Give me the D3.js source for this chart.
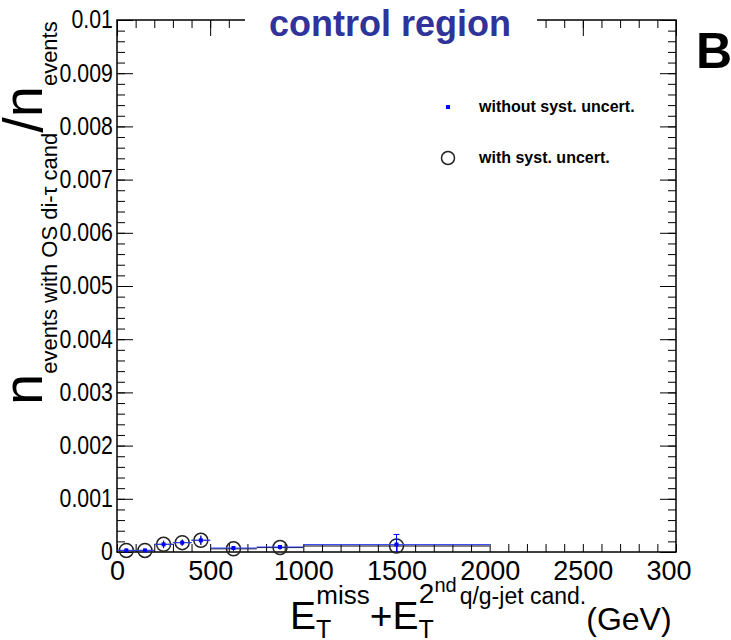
<!DOCTYPE html>
<html><head><meta charset="utf-8">
<script src="https://cdn.jsdelivr.net/npm/d3@7"></script>
<style>
html,body{margin:0;padding:0;background:#fff;}
svg{display:block;font-family:"Liberation Sans",Arial,Helvetica,sans-serif;}
</style>
</head><body>
<svg id="chart" width="731" height="640"></svg>
<script>
// Bin edges in E_T^miss + E_T(2nd jet), GeV
const binLow  = [0, 100, 200, 300, 400, 500, 750, 1000];
const binHigh = [100, 200, 300, 400, 500, 750, 1000, 2000];
// Fraction of events with an OS di-tau candidate, statistical errors only
const fracStat = [0.00003, 0.00003, 0.000144, 0.000176, 0.00022, 0.000075, 0.000094, 0.00014];
const errStat  = [0.00003, 0.00003, 0.00006, 0.00005, 0.000075, 0.00003, 0.00003, 0.00019];
// Same fraction, including systematic uncertainties
const fracSyst = [0.00003, 0.00003, 0.000144, 0.000176, 0.00022, 0.00006, 0.000083, 0.000113];
const errSyst  = [0.00003, 0.00003, 0.00007, 0.00006, 0.00009, 0.00004, 0.00004, 0.0002];

const xTickLabels = ["0", "500", "1000", "1500", "2000", "2500", "3000"];
const yTickLabels = ["0", "0.001", "0.002", "0.003", "0.004", "0.005", "0.006", "0.007", "0.008", "0.009", "0.01"];

const svg = d3.select("#chart");
const padL = 117, padR = 676, padT = 20, padB = 552;

const x = d3.scaleLinear().domain([0, 3000]).range([padL, padR]);
const y = d3.scaleLinear().domain([0, 0.01]).range([padB, padT]);

const xMajor = xTickLabels.map(Number);
const yMajor = yTickLabels.map(Number);
const xMinor = x.ticks(30);
const yMinor = y.ticks(50);

const axisStyle = g => {
  g.select(".domain").remove();
  g.selectAll(".tick line").attr("stroke", "#000").attr("stroke-width", 1);
};

// minor ticks on all four sides
svg.append("g").attr("transform", `translate(0,${padB})`)
  .call(d3.axisBottom(x).tickValues(xMinor).tickSize(-8).tickFormat(""))
  .call(axisStyle);
svg.append("g").attr("transform", `translate(0,${padT})`)
  .call(d3.axisTop(x).tickValues(xMinor).tickSize(-8).tickFormat(""))
  .call(axisStyle);
svg.append("g").attr("transform", `translate(${padL},0)`)
  .call(d3.axisLeft(y).tickValues(yMinor).tickSize(-8).tickFormat(""))
  .call(axisStyle);
svg.append("g").attr("transform", `translate(${padR},0)`)
  .call(d3.axisRight(y).tickValues(yMinor).tickSize(-8).tickFormat(""))
  .call(axisStyle);

// major ticks; tick labels are clipped at the canvas edge
svg.append("defs").append("clipPath").attr("id", "canvasClip")
  .append("rect").attr("x", 0).attr("y", 0).attr("width", 691).attr("height", 640);

const xAx = svg.append("g").attr("transform", `translate(0,${padB})`)
  .call(d3.axisBottom(x).tickValues(xMajor).tickSize(-16).tickPadding(9)
    .tickFormat((d, i) => xTickLabels[i]))
  .call(axisStyle);
xAx.attr("clip-path", "url(#canvasClip)");
xAx.selectAll(".tick text").attr("font-size", 27).attr("fill", "#000")
  .attr("font-family", "'Liberation Sans', Arial, sans-serif");

svg.append("g").attr("transform", `translate(0,${padT})`)
  .call(d3.axisTop(x).tickValues(xMajor).tickSize(-16).tickFormat(""))
  .call(axisStyle);

const yAx = svg.append("g").attr("transform", `translate(${padL},0)`)
  .call(d3.axisLeft(y).tickValues(yMajor).tickSize(-16)
    .tickFormat((d, i) => yTickLabels[i]))
  .call(axisStyle);
// narrow-set labels, right edge close to the frame
yAx.selectAll(".tick text").attr("font-size", 26).attr("fill", "#000")
  .attr("font-family", "'Liberation Sans', Arial, sans-serif")
  .attr("x", -5).attr("dy", "0.3em").attr("transform", "scale(0.82,1)");

svg.append("g").attr("transform", `translate(${padR},0)`)
  .call(d3.axisRight(y).tickValues(yMajor).tickSize(-16).tickFormat(""))
  .call(axisStyle);

// frame
svg.append("rect").attr("x", padL).attr("y", padT)
  .attr("width", padR - padL).attr("height", padB - padT)
  .attr("fill", "none").attr("stroke", "#000").attr("stroke-width", 1.5);

// title with white box breaking the frame
svg.append("rect").attr("x", 245).attr("y", 4).attr("width", 292).attr("height", 38).attr("fill", "#fff");
svg.append("text").attr("x", 390).attr("y", 36).attr("text-anchor", "middle")
  .attr("font-size", 36).attr("font-weight", "bold").attr("fill", "#303399")
  .text("control region");

svg.append("text").attr("x", 696).attr("y", 68)
  .attr("font-size", 50).attr("font-weight", "bold").attr("fill", "#000").text("B");

// data
const idx = d3.range(binLow.length);
const mid = i => (binLow[i] + binHigh[i]) / 2;
const gSyst = svg.append("g");
gSyst.selectAll("line.h").data(idx).join("line").attr("class", "h")
  .attr("x1", i => x(binLow[i])).attr("x2", i => x(binHigh[i]))
  .attr("y1", i => y(fracSyst[i])).attr("y2", i => y(fracSyst[i]))
  .attr("stroke", "#000").attr("stroke-width", 1);
gSyst.selectAll("line.v").data(idx).join("line").attr("class", "v")
  .attr("x1", i => x(mid(i))).attr("x2", i => x(mid(i)))
  .attr("y1", i => y(Math.max(0, fracSyst[i] - errSyst[i]))).attr("y2", i => y(fracSyst[i] + errSyst[i]))
  .attr("stroke", "#000").attr("stroke-width", 1);
gSyst.selectAll("circle").data(idx).join("circle")
  .attr("cx", i => x(mid(i))).attr("cy", i => y(fracSyst[i]))
  .attr("r", 7).attr("fill", "none").attr("stroke", "#222").attr("stroke-width", 1.5);

const gStat = svg.append("g");
gStat.selectAll("line.h").data(idx).join("line").attr("class", "h")
  .attr("x1", i => x(binLow[i])).attr("x2", i => x(binHigh[i]))
  .attr("y1", i => y(fracStat[i])).attr("y2", i => y(fracStat[i]))
  .attr("stroke", "#3344ff").attr("stroke-width", 1);
gStat.selectAll("line.v").data(idx).join("line").attr("class", "v")
  .attr("x1", i => x(mid(i))).attr("x2", i => x(mid(i)))
  .attr("y1", i => y(Math.max(0, fracStat[i] - errStat[i]))).attr("y2", i => y(fracStat[i] + errStat[i]))
  .attr("stroke", "#0000ff").attr("stroke-width", 1);
gStat.selectAll("line.cap").data(idx.filter(i => fracStat[i] + errStat[i] > 0.0003)).join("line").attr("class", "cap")
  .attr("x1", i => x(mid(i)) - 3).attr("x2", i => x(mid(i)) + 3)
  .attr("y1", i => y(fracStat[i] + errStat[i])).attr("y2", i => y(fracStat[i] + errStat[i]))
  .attr("stroke", "#0000ff").attr("stroke-width", 1);
gStat.selectAll("rect").data(idx).join("rect")
  .attr("x", i => x(mid(i)) - 2).attr("y", i => y(fracStat[i]) - 2)
  .attr("width", 4).attr("height", 4).attr("fill", "#0000ff");

// legend
const legend = svg.append("g");
legend.append("rect").attr("x", 446).attr("y", 105).attr("width", 4).attr("height", 4).attr("fill", "#0000ff");
legend.append("circle").attr("cx", 448).attr("cy", 158).attr("r", 6.5)
  .attr("fill", "none").attr("stroke", "#222").attr("stroke-width", 1.5);
legend.append("text").attr("x", 479).attr("y", 112).attr("font-size", 16).attr("font-weight", "bold")
  .text("without syst. uncert.");
legend.append("text").attr("x", 479).attr("y", 163).attr("font-size", 16).attr("font-weight", "bold")
  .text("with syst. uncert.");

// y-axis title: n_{events with OS di-tau cand} / n_{events}
const yt = svg.append("text").attr("transform", "translate(42,405) rotate(-90)")
  .attr("fill", "#000");
yt.append("tspan").attr("font-size", 56).text("n");
yt.append("tspan").attr("font-size", 22).attr("dy", 15).text("events with OS di-τ cand");
yt.append("tspan").attr("font-size", 56).attr("dy", -15).text("/n");
yt.append("tspan").attr("font-size", 22).attr("dy", 15).text("events");

// x-axis title: E_T^miss + E_T^{2nd q/g-jet cand.} (GeV)
const xt = svg.append("text").attr("x", 290).attr("y", 629).attr("fill", "#000");
xt.append("tspan").attr("font-size", 39).text("E");
xt.append("tspan").attr("font-size", 25).attr("dy", 9).text("T");
xt.append("tspan").attr("font-size", 26).attr("dx", -15).attr("dy", -34).text("miss");
xt.append("tspan").attr("font-size", 39).attr("dy", 25).text("+E");
xt.append("tspan").attr("font-size", 25).attr("dy", 9).text("T");
xt.append("tspan").attr("font-size", 28).attr("dx", -15).attr("dy", -35).text("2");
xt.append("tspan").attr("font-size", 20).attr("dy", -11).text("nd");
xt.append("tspan").attr("font-size", 23).attr("dx", 3).attr("dy", 12).text("q/g-jet cand.");
xt.append("tspan").attr("font-size", 32).attr("dy", 26).text("(GeV)");
</script>
</body></html>
